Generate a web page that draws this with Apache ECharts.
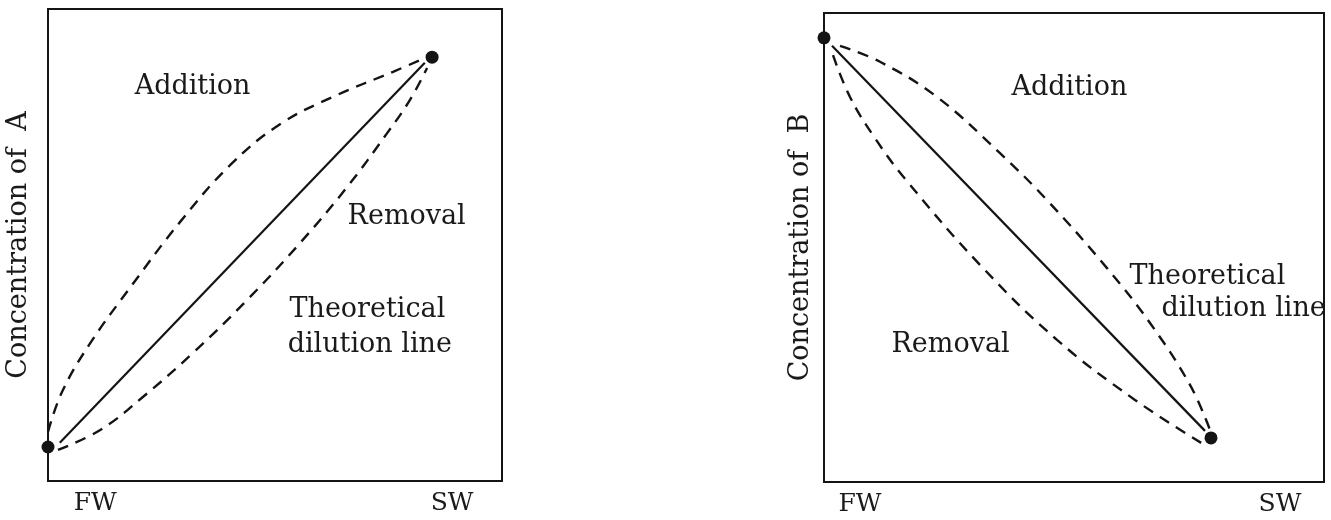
<!DOCTYPE html>
<html>
<head>
<meta charset="utf-8">
<title>Mixing diagrams: concentration vs. salinity</title>
<script src="https://cdn.jsdelivr.net/npm/echarts@6/dist/echarts.min.js"></script>
<style>
  html, body { margin: 0; padding: 0; background: #ffffff; }
  #chart { width: 1331px; height: 520px; }
</style>
</head>
<body>
<div id="chart"></div>
<script>
// Axis tick labels (x runs from fresh water to sea water, 0..1)
const tickLabels = ['FW', 'SW'];
const tickPosA = [0.104, 0.89];
const tickPosB = [0.072, 0.912];

// Panel A: constituent A (increasing towards SW)
const endMembersA = [[0, 0.072], [0.846, 0.898]];
const dilutionA = [[0.026, 0.081], [0.83, 0.886]];
const additionA = [
  [0.000, 0.104], [0.031, 0.189], [0.093, 0.292], [0.185, 0.415], [0.291, 0.549],
  [0.401, 0.669], [0.511, 0.756], [0.628, 0.814], [0.760, 0.867], [0.830, 0.896]
];
const removalA = [
  [0.022, 0.066], [0.115, 0.108], [0.209, 0.178], [0.319, 0.271], [0.438, 0.383],
  [0.555, 0.504], [0.659, 0.623], [0.747, 0.737], [0.797, 0.807], [0.835, 0.875]
];
const notesA = [
  ['Addition', 0.192, 0.833],
  ['Removal', 0.661, 0.559],
  ['Theoretical', 0.533, 0.362],
  ['dilution line', 0.529, 0.288]
];

// Panel B: constituent B (decreasing towards SW)
const endMembersB = [[0, 0.947], [0.774, 0.094]];
const dilutionB = [[0.016, 0.930], [0.762, 0.109]];
const additionB = [
  [0.032, 0.930], [0.112, 0.896], [0.226, 0.821], [0.352, 0.701], [0.446, 0.601],
  [0.566, 0.456], [0.652, 0.339], [0.732, 0.207], [0.772, 0.111]
];
const removalB = [
  [0.018, 0.910], [0.052, 0.821], [0.102, 0.733], [0.164, 0.644], [0.312, 0.463],
  [0.466, 0.303], [0.622, 0.175], [0.758, 0.081]
];
const notesB = [
  ['Addition', 0.376, 0.840],
  ['Theoretical', 0.612, 0.437],
  ['dilution line', 0.676, 0.367],
  ['Removal', 0.136, 0.292]
];

const ink = '#141414';
const textInk = '#1a1a1a';
const FONT = 'DejaVu Serif';
const FS = 27;

function xAxisFor(gridIndex, positions) {
  return {
    type: 'value', gridIndex, min: 0, max: 1,
    axisLine: { show: false },
    axisTick: { show: false },
    splitLine: { show: false },
    axisLabel: {
      customValues: positions,
      margin: 10,
      color: textInk, fontFamily: FONT, fontSize: 25,
      formatter: v => {
        const i = positions.findIndex(p => Math.abs(p - v) < 1e-6);
        return i >= 0 ? tickLabels[i] : '';
      }
    }
  };
}

function yAxisFor(gridIndex, name, gap) {
  return {
    type: 'value', gridIndex, min: 0, max: 1,
    name, nameLocation: 'middle', nameGap: gap,
    nameTextStyle: { color: textInk, fontFamily: FONT, fontSize: FS },
    axisLine: { show: false },
    axisTick: { show: false },
    splitLine: { show: false },
    axisLabel: { show: false }
  };
}

function panelSeries(idx, ends, dil, add, rem, notes) {
  const base = { xAxisIndex: idx, yAxisIndex: idx, symbol: 'none', silent: true, animation: false };
  const dashed = { color: ink, width: 2.4, type: [11, 8] };
  return [
    Object.assign({}, base, { type: 'line', data: dil, lineStyle: { color: ink, width: 2.2 } }),
    Object.assign({}, base, { type: 'line', data: add, smooth: 0.4, lineStyle: dashed }),
    Object.assign({}, base, { type: 'line', data: rem, smooth: 0.4, lineStyle: dashed }),
    Object.assign({}, base, {
      type: 'scatter', data: ends, symbol: 'circle', symbolSize: 13, clip: false,
      itemStyle: { color: ink, opacity: 1 }
    }),
    // region annotations, anchored at data coordinates (left edge, vertical middle)
    Object.assign({}, base, {
      type: 'scatter', symbol: 'circle', symbolSize: 1, clip: false,
      itemStyle: { color: 'rgba(255,255,255,0)', opacity: 1 },
      data: notes.map(n => ({ value: [n[1], n[2]], name: n[0] })),
      label: {
        show: true, position: [0, 0], align: 'left', verticalAlign: 'middle',
        formatter: p => p.name, opacity: 1,
        color: textInk, fontFamily: FONT, fontSize: FS
      }
    })
  ];
}

const chart = echarts.init(document.getElementById('chart'), null, { renderer: 'canvas' });
chart.setOption({
  backgroundColor: '#ffffff',
  animation: false,
  grid: [
    { left: 48, top: 9, width: 454, height: 472, show: true, borderColor: ink, borderWidth: 2, backgroundColor: 'transparent' },
    { left: 824, top: 13, width: 500, height: 469, show: true, borderColor: ink, borderWidth: 2, backgroundColor: 'transparent' }
  ],
  xAxis: [xAxisFor(0, tickPosA), xAxisFor(1, tickPosB)],
  yAxis: [yAxisFor(0, 'Concentration of  A', 16), yAxisFor(1, 'Concentration of  B', 10)],
  series: [
    ...panelSeries(0, endMembersA, dilutionA, additionA, removalA, notesA),
    ...panelSeries(1, endMembersB, dilutionB, additionB, removalB, notesB)
  ]
});
</script>
</body>
</html>
